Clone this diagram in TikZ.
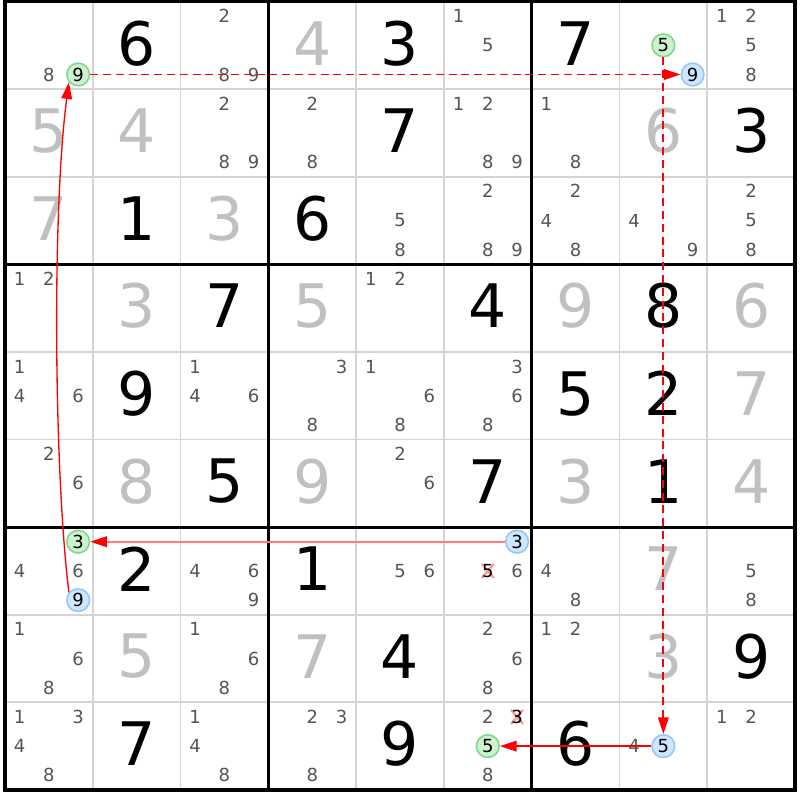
\documentclass[tikz,border=0pt]{standalone}
\usepackage{fontspec}
\setmainfont{DejaVu Sans}
\usetikzlibrary{arrows.meta}
\definecolor{candgray}{HTML}{555555}
\definecolor{solvedgray}{HTML}{C0C0C0}
\definecolor{gridgray}{HTML}{D4D4D4}
\definecolor{greenfill}{HTML}{CDF2CD}
\definecolor{greenline}{HTML}{80D890}
\definecolor{bluefill}{HTML}{CFE6FF}
\definecolor{blueline}{HTML}{96C8F5}
\definecolor{crosspink}{HTML}{FF9A9A}
\definecolor{linkred}{HTML}{FF0000}
\definecolor{softred}{HTML}{FF7A7A}
\newcommand\candxy[3]{%
  \pgfmathsetmacro\CandX{5+#2*87.78+(2*mod(#3-1,3)+1)*14.63}%
  \pgfmathsetmacro\CandY{1.5+#1*87.6+(2*floor((#3-1)/3)+1)*14.6}}
\begin{document}
\begin{tikzpicture}[x=0.75pt,y=-0.75pt,
  given/.style={font=\fontsize{45}{50}\selectfont, text=black, inner sep=0pt},
  solved/.style={given, text=solvedgray},
  cand/.style={font=\fontsize{13.5}{15}\selectfont, text=candgray, inner sep=0pt},
  greencand/.style={cand, text=black, circle, draw=greenline, fill=greenfill, line width=1.2pt, minimum size=17pt},
  bluecand/.style={cand, text=black, circle, draw=blueline, fill=bluefill, line width=1.2pt, minimum size=17pt},
  crossedcand/.style={cand, text=black},
  thinline/.style={draw=gridgray, line width=1.4pt},
  thickline/.style={draw=black, line width=2.4pt},
  xmark/.style={draw=crosspink, line width=1.8pt},
  weaklink/.style={draw=linkred, line width=1.3pt, dash pattern=on 6pt off 3.6pt,
     -{Triangle[length=12.5pt,width=8pt,color=linkred]}},
  stronglink/.style={draw=linkred, line width=1pt,
     -{Triangle[length=12.5pt,width=8pt,color=linkred]}}
]
\useasboundingbox (0,0) rectangle (800,800);
\fill[white] (0,0) rectangle (800,800);
% grid
\foreach \i in {1,2,4,5,7,8} {
  \draw[thinline] ({5+\i*87.78},1.5) -- ({5+\i*87.78},790);
  \draw[thinline] (5,{1.5+\i*87.6}) -- (795,{1.5+\i*87.6});
}
\foreach \i in {3,6} {
  \draw[thickline] ({5+\i*87.78},1.5) -- ({5+\i*87.78},790);
  \draw[thickline] (5,{1.5+\i*87.6}) -- (795,{1.5+\i*87.6});
}
\draw[thickline] (5,1.5) rectangle (795,790);
% givens
\foreach \r/\c/\v in {0/1/6,0/4/3,0/6/7,1/4/7,1/8/3,2/1/1,2/3/6,3/2/7,3/5/4,3/7/8,
  4/1/9,4/6/5,4/7/2,5/2/5,5/5/7,5/7/1,6/1/2,6/3/1,7/4/4,7/8/9,8/1/7,8/4/9,8/6/6}
  \node[given] (g-\r-\c) at ({5+(\c+0.5)*87.78},{1.5+(\r+0.5)*87.6-2}) {\v};
% solved
\foreach \r/\c/\v in {0/3/4,1/0/5,1/1/4,1/7/6,2/0/7,2/2/3,3/1/3,3/3/5,3/6/9,3/8/6,
  4/8/7,5/1/8,5/3/9,5/6/3,5/8/4,6/7/7,7/1/5,7/3/7,7/7/3}
  \node[solved] (s-\r-\c) at ({5+(\c+0.5)*87.78},{1.5+(\r+0.5)*87.6-2}) {\v};
% plain candidates
\foreach \r/\c/\ds in {0/0/{8},0/2/{2,8,9},0/5/{1,5},0/8/{1,2,5,8},
  1/2/{2,8,9},1/3/{2,8},1/5/{1,2,8,9},1/6/{1,8},
  2/4/{5,8},2/5/{2,8,9},2/6/{2,4,8},2/7/{4,9},2/8/{2,5,8},
  3/0/{1,2},3/4/{1,2},
  4/0/{1,4,6},4/2/{1,4,6},4/3/{3,8},4/4/{1,6,8},4/5/{3,6,8},
  5/0/{2,6},5/4/{2,6},
  6/0/{4,6},6/2/{4,6,9},6/4/{5,6},6/5/{6},6/6/{4,8},6/8/{5,8},
  7/0/{1,6,8},7/2/{1,6,8},7/5/{2,6,8},7/6/{1,2},
  8/0/{1,3,4,8},8/2/{1,4,8},8/3/{2,3,8},8/5/{2,8},8/7/{4},8/8/{1,2}} {
  \foreach \d in \ds {
    \candxy{\r}{\c}{\d}
    \node[cand] (n-\r-\c-\d) at (\CandX,\CandY) {\d};
  }
}
% crossed candidates
\candxy{6}{5}{5}
\coordinate (x-6-5-5) at (\CandX,\CandY);
\draw[xmark] ([shift={(-6,-7)}]x-6-5-5) -- ([shift={(6,7)}]x-6-5-5);
\draw[xmark] ([shift={(-6,7)}]x-6-5-5) -- ([shift={(6,-7)}]x-6-5-5);
\node[crossedcand] (n-6-5-5) at (x-6-5-5) {5};
\candxy{8}{5}{3}
\coordinate (x-8-5-3) at (\CandX,\CandY);
\draw[xmark] ([shift={(-6,-7)}]x-8-5-3) -- ([shift={(6,7)}]x-8-5-3);
\draw[xmark] ([shift={(-6,7)}]x-8-5-3) -- ([shift={(6,-7)}]x-8-5-3);
\node[crossedcand] (n-8-5-3) at (x-8-5-3) {3};
% highlighted candidates
\candxy{0}{0}{9}\node[greencand] (n-0-0-9) at (\CandX,\CandY) {9};
\candxy{0}{7}{5}\node[greencand] (n-0-7-5) at (\CandX,\CandY) {5};
\candxy{0}{7}{9}\node[bluecand] (n-0-7-9) at (\CandX,\CandY) {9};
\candxy{6}{0}{3}\node[greencand] (n-6-0-3) at (\CandX,\CandY) {3};
\candxy{6}{0}{9}\node[bluecand] (n-6-0-9) at (\CandX,\CandY) {9};
\candxy{6}{5}{3}\node[bluecand] (n-6-5-3) at (\CandX,\CandY) {3};
\candxy{8}{5}{5}\node[greencand] (n-8-5-5) at (\CandX,\CandY) {5};
\candxy{8}{7}{5}\node[bluecand] (n-8-7-5) at (\CandX,\CandY) {5};
% links
\draw[weaklink] (n-0-0-9) -- (n-0-7-9);
\draw[weaklink] (n-0-7-5) -- (n-8-7-5);
\draw[stronglink] (n-8-7-5) -- (n-8-5-5);
\draw[stronglink, draw=softred, line width=1.4pt] (n-6-5-3) -- (n-6-0-3);
\draw[stronglink] (n-6-0-9.140) .. controls (54,470) and (52,210) .. (n-0-0-9.220);
\end{tikzpicture}
\end{document}
